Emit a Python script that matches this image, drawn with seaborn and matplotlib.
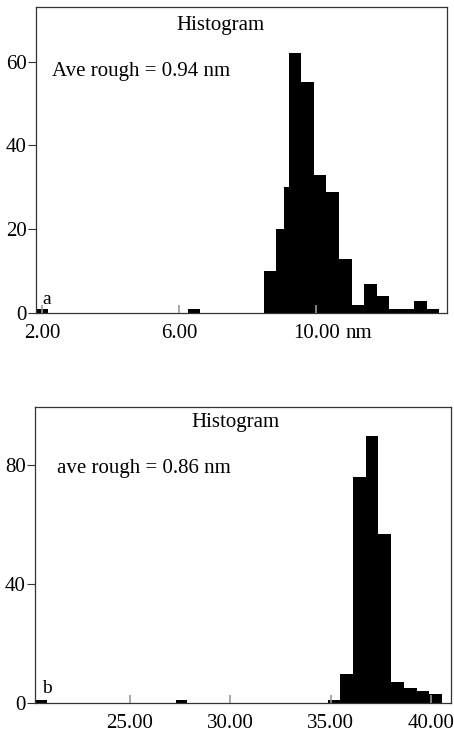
import matplotlib
matplotlib.use("Agg")
import matplotlib.pyplot as plt
import seaborn as sns
import numpy as np
import pandas as pd

# ========== Data ==========
# panel a: bin edges (nm) and counts per bin
edges_a = [1.82, 2.18, 6.24, 6.61, 8.46, 8.81, 9.06, 9.21, 9.55, 9.92,
           10.27, 10.65, 11.04, 11.38, 11.77, 12.11, 12.84, 13.23, 13.57]
counts_a = [1, 0, 1, 0, 10, 20, 30, 62, 55, 33, 29, 13, 2, 7, 4, 1, 3, 1]
xticks_a = [2.0, 6.0, 10.0]
xticklabels_a = ["2.00", "6.00", "10.00"]
yticks_a = [0, 20, 40, 60]

# panel b
edges_b = [20.27, 20.85, 27.28, 27.83, 34.85, 35.46, 36.13, 36.74, 37.37,
           37.99, 38.65, 39.28, 39.91, 40.53]
counts_b = [1, 0, 1, 0, 1, 10, 76, 90, 57, 7, 5, 4, 3]
xticks_b = [25.0, 30.0, 35.0, 40.0]
xticklabels_b = ["25.00", "30.00", "35.00", "40.00"]
yticks_b = [0, 40, 80]

sns.set_style("ticks")
plt.rcParams["font.family"] = ["Liberation Serif", "DejaVu Serif"]
plt.rcParams["font.size"] = 15
plt.rcParams["text.color"] = "black"

fig = plt.figure(figsize=(4.54, 7.33), dpi=100)
ax_a = fig.add_axes([0.0793, 0.5726, 0.9053, 0.4179])
ax_b = fig.add_axes([0.0771, 0.0405, 0.9156, 0.4038])


def draw_panel(ax, edges, counts, xlim, ylim, xticks, xticklabels, yticks):
    mids = [(lo + hi) / 2 for lo, hi in zip(edges[:-1], edges[1:])]
    df = pd.DataFrame({"size": mids, "count": counts})
    sns.histplot(data=df, x="size", weights="count", bins=list(edges), ax=ax,
                 color="black", alpha=1, linewidth=0, element="bars")
    ax.set_axisbelow(False)
    ax.set_xlim(*xlim)
    ax.set_ylim(*ylim)
    ax.set_xticks(xticks)
    ax.set_xticklabels(xticklabels)
    ax.set_yticks(yticks)
    ax.set_xlabel("")
    ax.set_ylabel("")
    ax.tick_params(axis="x", direction="in", length=6, width=1.2,
                   color="0.6", labelcolor="black", pad=7.5, labelsize=15)
    ax.tick_params(axis="y", direction="out", length=5.5, width=0.8,
                   color="0.2", labelcolor="black", pad=1, labelsize=15)
    for s in ax.spines.values():
        s.set_visible(True)
        s.set_linewidth(0.9)
        s.set_color("0.2")


draw_panel(ax_a, edges_a, counts_a, (1.82, 13.81), (0, 73),
           xticks_a, xticklabels_a, yticks_a)
ax_a.text(0.449, 0.924, "Histogram", transform=ax_a.transAxes,
          ha="center", va="baseline", fontsize=15)
ax_a.text(0.038, 0.774, "Ave rough = 0.94 nm", transform=ax_a.transAxes,
          ha="left", va="baseline", fontsize=15)
ax_a.text(0.016, 0.030, "a", transform=ax_a.transAxes,
          ha="left", va="baseline", fontsize=14)
ax_a.text(10.85, -0.0815, "nm", transform=ax_a.get_xaxis_transform(),
          ha="left", va="baseline", fontsize=15, clip_on=False)

draw_panel(ax_b, edges_b, counts_b, (20.27, 40.98), (0, 99.5),
           xticks_b, xticklabels_b, yticks_b)
ax_b.text(0.483, 0.934, "Histogram", transform=ax_b.transAxes,
          ha="center", va="baseline", fontsize=15)
ax_b.text(0.052, 0.777, "ave rough = 0.86 nm", transform=ax_b.transAxes,
          ha="left", va="baseline", fontsize=15)
ax_b.text(0.016, 0.034, "b", transform=ax_b.transAxes,
          ha="left", va="baseline", fontsize=14)

fig.savefig("out.png", dpi=100)
plt.close(fig)
